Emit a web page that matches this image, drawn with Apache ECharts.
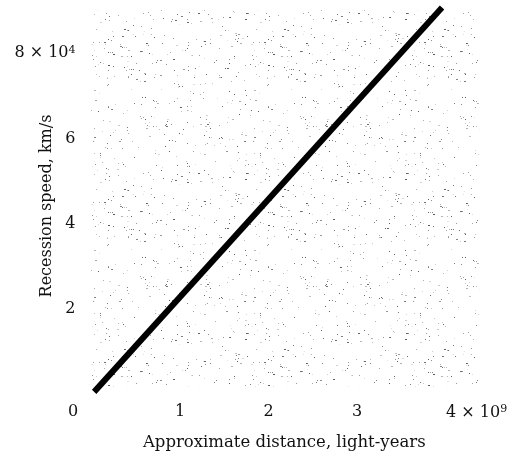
<!DOCTYPE html>
<html>
<head>
<meta charset="utf-8">
<script src="https://cdn.jsdelivr.net/npm/echarts@6/dist/echarts.min.js"></script>
<style>
html,body{margin:0;padding:0;background:#fff;}
#chart{width:508px;height:462px;}
</style>
</head>
<body>
<div id="chart"></div>
<script>
// Data (distance in 1e9 light-years, speed in 1e4 km/s)
var lineDistance = [0.03, 3.96];
var lineSpeed = [0.05, 9.07];
var xTickLabels = ['0', '1', '2', '3', '4'];
var yTickLabels = ['2', '4', '6', '8'];
var xTitle = 'Approximate distance, light-years';
var yTitle = 'Recession speed, km/s';

var lineData = lineDistance.map(function (d, i) { return [d, lineSpeed[i]]; });

// stipple texture (deterministic)
function makeStipple() {
  var c = document.createElement('canvas');
  c.width = 160; c.height = 160;
  var g = c.getContext('2d');
  var s = 12345;
  function rnd() { s = (s * 1103515245 + 12345) % 2147483648; return s / 2147483648; }
  var n = 400;
  for (var i = 0; i < n; i++) {
    var x = Math.floor(rnd() * 160), y = Math.floor(rnd() * 160);
    var lv = Math.floor(90 + rnd() * 140);
    g.fillStyle = 'rgb(' + lv + ',' + lv + ',' + lv + ')';
    var w = rnd() < 0.15 ? 2 : 1;
    g.fillRect(x, y, w, 1);
  }
  return c;
}

var serif = '"DejaVu Serif", "Liberation Serif", serif';
var chart = echarts.init(document.getElementById('chart'), null, {renderer: 'canvas'});
chart.setOption({
  animation: false,
  backgroundColor: '#fff',
  grid: {left: 91.5, right: 27, top: 2, bottom: 68, containLabel: false, outerBoundsMode: 'none'},
  xAxis: {
    type: 'value', min: 0, max: 4.4, interval: 1,
    axisLine: {show: false}, axisTick: {show: false}, splitLine: {show: false},
    axisLabel: {
      showMaxLabel: false, margin: 10, color: '#111', fontFamily: serif, fontSize: 16,
      formatter: function (v) {
        var t = xTickLabels[Math.round(v)];
        if (v === 0) return '{z|' + t + '}';
        if (v === 4) return '{a|' + t + ' × 10}{s|9}';
        return t;
      },
      rich: {
        z: {fontFamily: serif, fontSize: 16, color: '#111', padding: [0, 37, 0, 0]},
        a: {fontFamily: serif, fontSize: 16, color: '#111', padding: [0, 0, 0, 62]},
        s: {fontFamily: serif, fontSize: 11, color: '#111', verticalAlign: 'top', padding: [0, 0, 6, 0]}
      }
    },
    name: xTitle, nameLocation: 'middle', nameGap: 40, nameMoveOverlap: false,
    nameTextStyle: {fontFamily: serif, fontSize: 16.5, color: '#111', padding: [0, 0, 0, -4]}
  },
  yAxis: {
    type: 'value', min: 0, max: 9.2, interval: 2,
    axisLine: {show: false}, axisTick: {show: false}, splitLine: {show: false},
    axisLabel: {
      showMinLabel: false, showMaxLabel: false, margin: 16, color: '#111', fontFamily: serif, fontSize: 16,
      formatter: function (v) {
        var t = yTickLabels[Math.round(v / 2) - 1];
        if (v === 8) return t + ' × 10{s|4}';
        return t;
      },
      rich: {
        s: {fontFamily: serif, fontSize: 11, color: '#111', verticalAlign: 'top', padding: [0, 0, 6, 0]}
      }
    },
    name: yTitle, nameLocation: 'middle', nameGap: 37, nameMoveOverlap: false,
    nameTextStyle: {fontFamily: serif, fontSize: 16, color: '#111', padding: [0, 16, 0, 0]}
  },
  series: [{
    type: 'line',
    data: lineData,
    symbol: 'none',
    clip: false,
    lineStyle: {color: '#000', width: 6, cap: 'butt'},
    z: 5,
    markArea: {
      silent: true,
      itemStyle: {color: {image: makeStipple(), repeat: 'repeat'}},
      data: [[{coord: [0, 0.18]}, {coord: [4.38, 9.0]}]]
    }
  }]
});
</script>
</body>
</html>
